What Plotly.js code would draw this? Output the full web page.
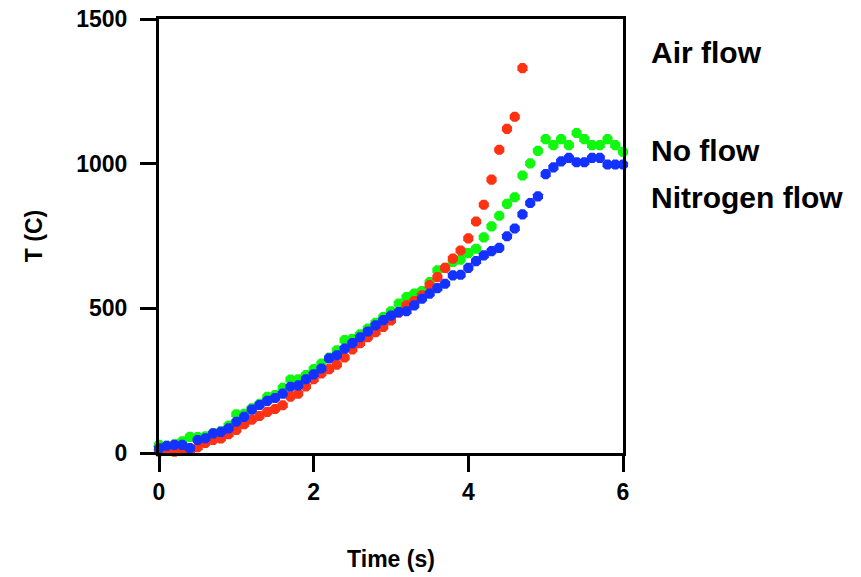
<!DOCTYPE html>
<html>
<head>
<meta charset="utf-8">
<script src="https://cdn.plot.ly/plotly-3.0.1.min.js"></script>
<style>html,body{margin:0;padding:0;background:#fff;}#chart{width:861px;height:577px;}</style>
</head>
<body>
<div id="chart"></div>
<script>
// Time (s) for the Air flow series
const timeAir = [0.0,0.1,0.2,0.3,0.4,0.5,0.6,0.7,0.8,0.9,1.0,1.1,1.2,1.3,1.4,1.5,1.6,1.7,1.8,1.9,2.0,2.1,2.2,2.3,2.4,2.5,2.6,2.7,2.8,2.9,3.0,3.1,3.2,3.3,3.4,3.5,3.6,3.7,3.8,3.9,4.0,4.1,4.2,4.3,4.4,4.5,4.6,4.7];
const tempAir = [5,8,5,12,10,20,35,45,50,65,80,100,115,128,142,152,165,195,205,230,255,275,290,305,330,358,380,400,418,436,458,485,510,525,545,580,608,640,672,700,742,800,858,945,1048,1120,1162,1330];

// Time (s) for the No flow and Nitrogen flow series
const timeFull = [0.0,0.1,0.2,0.3,0.4,0.5,0.6,0.7,0.8,0.9,1.0,1.1,1.2,1.3,1.4,1.5,1.6,1.7,1.8,1.9,2.0,2.1,2.2,2.3,2.4,2.5,2.6,2.7,2.8,2.9,3.0,3.1,3.2,3.3,3.4,3.5,3.6,3.7,3.8,3.9,4.0,4.1,4.2,4.3,4.4,4.5,4.6,4.7,4.8,4.9,5.0,5.1,5.2,5.3,5.4,5.5,5.6,5.7,5.8,5.9,6.0];
const tempNoFlow = [28,25,30,40,56,55,58,68,75,95,134,135,154,170,194,200,225,254,255,269,290,309,330,355,390,395,410,430,450,470,490,516,539,551,560,591,631,640,660,668,691,706,745,783,820,861,884,959,1001,1044,1085,1064,1085,1064,1106,1085,1064,1064,1085,1064,1041];
const tempNitrogen = [16,25,28,28,17,45,51,68,73,85,108,125,150,166,180,190,205,229,234,255,272,292,327,338,361,380,400,420,441,459,475,487,490,510,533,551,570,585,614,616,640,663,683,698,709,749,776,825,864,887,964,987,1008,1020,1005,1005,1020,1020,997,997,997];

const seriesNames = ["Air flow", "No flow", "Nitrogen flow"];
const xTicks = [0, 2, 4, 6];
const yTicks = [0, 500, 1000, 1500];

const font = "Liberation Sans, Arial, sans-serif";
const marker = (c) => ({color: c, size: 11, symbol: "octagon", line: {width: 0}});

const traces = [
  {x: timeFull, y: tempNoFlow, name: seriesNames[1], mode: "markers", marker: marker("#10f810"), cliponaxis: false},
  {x: timeAir, y: tempAir, name: seriesNames[0], mode: "markers", marker: marker("#ff3214"), cliponaxis: false},
  {x: timeFull, y: tempNitrogen, name: seriesNames[2], mode: "markers", marker: marker("#1432ff"), cliponaxis: false}
];

const axisCommon = {
  showline: true, linecolor: "#000", linewidth: 3, mirror: true,
  ticks: "outside", ticklen: 16, tickwidth: 3, tickcolor: "#000",
  showgrid: false, zeroline: false,
  tickfont: {family: font, size: 23, color: "#000", weight: "bold"}
};

const layout = {
  width: 861, height: 577,
  margin: {l: 159, r: 238, t: 19, b: 124},
  paper_bgcolor: "#fff", plot_bgcolor: "#fff",
  showlegend: false,
  xaxis: Object.assign({}, axisCommon, {
    range: [0, 6], tickvals: xTicks, ticktext: xTicks.map(String),
    title: {text: "Time (s)", font: {family: font, size: 23, color: "#000", weight: "bold"}, standoff: 48}
  }),
  yaxis: Object.assign({}, axisCommon, {
    range: [0, 1500], tickvals: yTicks, ticktext: yTicks.map(String),
    ticklabelstandoff: 8,
    title: {text: "T (C)", font: {family: font, size: 23, color: "#000", weight: "bold"}, standoff: 28}
  }),
  annotations: [
    {text: seriesNames[0], y: 0.9217},
    {text: seriesNames[1], y: 0.698},
    {text: seriesNames[2], y: 0.5876}
  ].map(a => ({
    text: a.text, xref: "paper", yref: "paper", x: 1.056, y: a.y,
    xanchor: "left", yanchor: "middle", showarrow: false,
    font: {family: font, size: 30, color: "#000", weight: "bold"}
  }))
};

Plotly.newPlot("chart", traces, layout, {displayModeBar: false, staticPlot: true});
</script>
</body>
</html>
